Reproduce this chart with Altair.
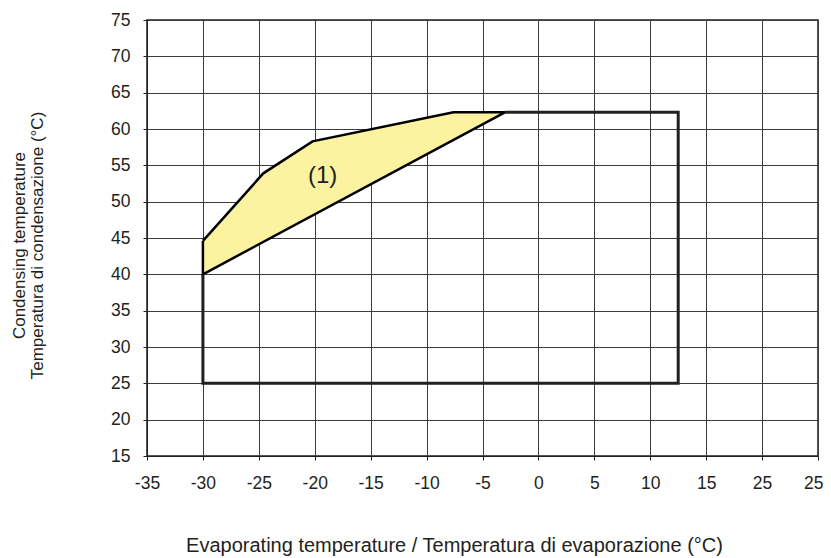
import altair as alt
import pandas as pd

# Tick values and labels (the source chart labels the 20 tick as "25")
x_ticks = [-35, -30, -25, -20, -15, -10, -5, 0, 5, 10, 15, 20, 25]
x_tick_labels = ["-35", "-30", "-25", "-20", "-15", "-10", "-5", "0", "5", "10", "15", "25", "25"]
y_ticks = [15, 20, 25, 30, 35, 40, 45, 50, 55, 60, 65, 70, 75]

# Yellow region (1) polygon
region_x = [-30, -24.6, -20.2, -7.6, -3.0, -30, -30]
region_y = [44.6, 53.9, 58.3, 62.3, 62.3, 40.0, 44.6]

# Operating envelope (open outline)
envelope_x = [-30, -30, 12.5, 12.5, -3.0]
envelope_y = [40.0, 25.0, 25.0, 62.3, 62.3]

label_text = ["(1)"]
label_x = [-19.3]
label_y = [53.5]

region_df = pd.DataFrame({"x": region_x, "y": region_y, "o": list(range(len(region_x)))})
env_df = pd.DataFrame({"x": envelope_x, "y": envelope_y, "o": list(range(len(envelope_x)))})
lab_df = pd.DataFrame({"x": label_x, "y": label_y, "t": label_text})

label_expr = " : ".join(
    f"datum.value == {v} ? '{l}'" for v, l in zip(x_ticks, x_tick_labels)
) + " : datum.label"

FONT = "Liberation Sans"
INK = "#231f20"
LABEL_SIZE = 17.5

x_scale = alt.Scale(domain=[-35, 25], nice=False, zero=False)
y_scale = alt.Scale(domain=[15, 75], nice=False, zero=False)

x_axis = alt.Axis(
    values=x_ticks, labelExpr=label_expr,
    title="Evaporating temperature / Temperatura di evaporazione (°C)",
    titleX=307, titleY=95, titleBaseline="alphabetic", titleAnchor="middle",
    titleFontSize=20, titleFont=FONT, titleFontWeight="normal", titleColor=INK,
    labelFontSize=LABEL_SIZE, labelFont=FONT, labelColor=INK, labelPadding=14,
    labelAlign={"condition": {"test": "datum.value == 25", "value": "right"}, "value": "center"},
    labelOffset={"condition": {"test": "datum.value == 25", "value": 5}, "value": 0},
    tickSize=4, tickColor=INK, domainColor=INK, labelOverlap=False,
    grid=True, gridColor="#3c3c3c", gridWidth=1, labelFlush=False,
)
y_axis = alt.Axis(
    values=y_ticks,
    title=["Condensing temperature", "Temperatura di condensazione (°C)"],
    titleAngle=-90, titleX=-136, titleY=225, titleBaseline="top", titleAlign="center",
    titleFontSize=17, titleFont=FONT, titleFontWeight="normal", titleColor=INK,
    titleLineHeight=18,
    labelFontSize=LABEL_SIZE, labelFont=FONT, labelColor=INK, labelPadding=13,
    tickSize=4, tickColor=INK, domainColor=INK, labelOverlap=False,
    grid=True, gridColor="#3c3c3c", gridWidth=1, labelFlush=False,
)

enc_x = alt.X("x:Q", scale=x_scale, axis=x_axis)
enc_y = alt.Y("y:Q", scale=y_scale, axis=y_axis)

region = alt.Chart(region_df).mark_line(
    fill="#fbf3a0", stroke="#000000", strokeWidth=2.5, strokeJoin="miter"
).encode(x=enc_x, y=enc_y, order="o:Q")

envelope = alt.Chart(env_df).mark_line(
    stroke=INK, strokeWidth=3, strokeJoin="miter"
).encode(x=enc_x, y=enc_y, order="o:Q")

label = alt.Chart(lab_df).mark_text(
    font=FONT, fontSize=24, color=INK, align="center", baseline="middle"
).encode(x=enc_x, y=enc_y, text="t:N")

chart = alt.layer(region, envelope, label).properties(
    width=671, height=436,
    autosize=alt.AutoSizeParams(type="none"),
    padding={"left": 139, "top": 12, "right": 5, "bottom": 102},
).configure_view(
    stroke=INK, strokeWidth=1.5
).configure_axis(
    labelOverlap=False, labelFontSize=LABEL_SIZE, labelFont=FONT
)

chart.save("out.html", embed_options={"renderer": "svg", "actions": False})
